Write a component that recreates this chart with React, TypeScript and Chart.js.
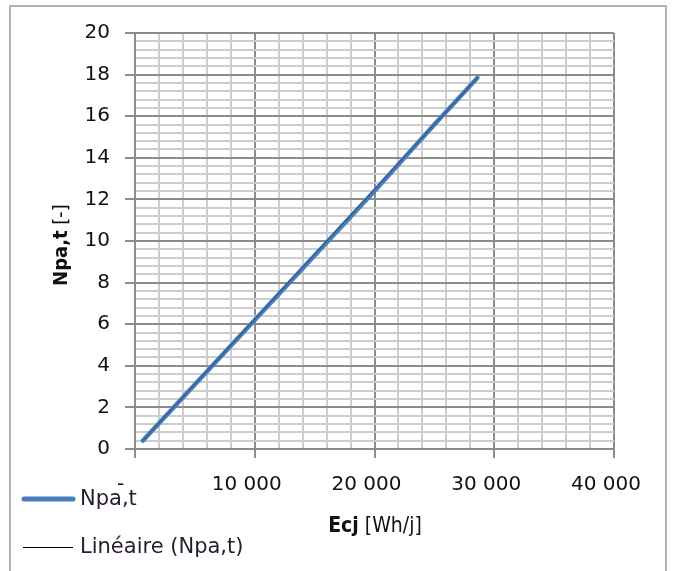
import React, { useEffect, useRef } from "react";
import { Chart, registerables } from "chart.js";

Chart.register(...registerables);

// ---- Data ----
const ecjValues = [650, 5000, 10000, 15000, 20000, 25000, 28600];
const npaValues = [0.4, 3.1, 6.2, 9.3, 12.4, 15.6, 17.85];
const trendX = [650, 28600];
const trendY = [0.4, 17.85];

const seriesLabel = "Npa,t";
const trendLabel = "Linéaire (Npa,t)";
const xTitleBold = "Ecj";
const xTitleRest = " [Wh/j]";
const yTitleBold = "Npa,t";
const yTitleRest = " [-]";

const xMajorLabels: Record<number, string> = {
  0: "-  ",
  10000: "10 000",
  20000: "20 000",
  30000: "30 000",
  40000: "40 000",
};

const TICK_FONT = "'DejaVu Sans', sans-serif";
const TITLE_FONT = "'DejaVu Sans Condensed', 'Liberation Sans Narrow', 'DejaVu Sans', sans-serif";
const BLUE = "#4a7ebb";

function isMultiple(v: number, m: number) {
  const r = v / m;
  return Math.abs(r - Math.round(r)) < 1e-6;
}

const decorPlugin = {
  id: "decor",
  beforeDraw(chart: any) {
    const { ctx } = chart;
    ctx.save();
    ctx.fillStyle = "#ffffff";
    ctx.fillRect(0, 0, chart.width, chart.height);
    ctx.strokeStyle = "#b4b4b4";
    ctx.lineWidth = 2;
    ctx.strokeRect(10, 6, 656, 600);
    ctx.restore();
  },
  afterDraw(chart: any) {
    const { ctx } = chart;
    ctx.save();
    // X title (mixed weight)
    ctx.fillStyle = "#111";
    ctx.textBaseline = "middle";
    ctx.textAlign = "left";
    ctx.font = `bold 21px ${TITLE_FONT}`;
    const wb = ctx.measureText(xTitleBold).width;
    ctx.font = `21px ${TITLE_FONT}`;
    const wr = ctx.measureText(xTitleRest).width;
    const xc = 375;
    const xStart = xc - (wb + wr) / 2;
    ctx.font = `bold 21px ${TITLE_FONT}`;
    ctx.fillText(xTitleBold, xStart, 527);
    ctx.font = `21px ${TITLE_FONT}`;
    ctx.fillText(xTitleRest, xStart + wb, 527);

    // Y title rotated
    ctx.save();
    ctx.translate(62, 245);
    ctx.rotate(-Math.PI / 2);
    ctx.font = `bold 20px ${TITLE_FONT}`;
    const yb = ctx.measureText(yTitleBold).width;
    ctx.font = `20px ${TITLE_FONT}`;
    const yr = ctx.measureText(yTitleRest).width;
    const ys = -(yb + yr) / 2;
    ctx.font = `bold 20px ${TITLE_FONT}`;
    ctx.fillText(yTitleBold, ys, 0);
    ctx.font = `20px ${TITLE_FONT}`;
    ctx.fillText(yTitleRest, ys + yb, 0);
    ctx.restore();

    // Legend
    ctx.lineCap = "round";
    ctx.strokeStyle = BLUE;
    ctx.lineWidth = 5;
    ctx.beginPath();
    ctx.moveTo(24, 499);
    ctx.lineTo(73, 499);
    ctx.stroke();
    ctx.lineCap = "butt";
    ctx.strokeStyle = "#000";
    ctx.lineWidth = 1;
    ctx.beginPath();
    ctx.moveTo(23, 547.5);
    ctx.lineTo(73, 547.5);
    ctx.stroke();
    ctx.fillStyle = "#2a1a30";
    ctx.font = `21px ${TICK_FONT}`;
    ctx.textAlign = "left";
    ctx.fillText(seriesLabel, 80, 500);
    ctx.fillText(trendLabel, 80, 548);
    ctx.restore();
  },
};

export default function App() {
  const ref = useRef<HTMLCanvasElement | null>(null);

  useEffect(() => {
    document.body.style.margin = "0";
    const canvas = ref.current;
    if (!canvas) return;
    const chart = new Chart(canvas, {
      type: "scatter",
      data: {
        datasets: [
          {
            label: seriesLabel,
            data: ecjValues.map((x, i) => ({ x, y: npaValues[i] })),
            showLine: true,
            borderColor: BLUE,
            backgroundColor: BLUE,
            borderWidth: 4.5,
            borderCapStyle: "round",
            borderJoinStyle: "round",
            pointRadius: 0,
            order: 2,
          },
          {
            label: trendLabel,
            data: trendX.map((x, i) => ({ x, y: trendY[i] })),
            showLine: true,
            borderColor: "rgba(20,40,70,0.6)",
            borderWidth: 1,
            pointRadius: 0,
            order: 1,
          },
        ],
      },
      options: {
        responsive: false,
        animation: false,
        devicePixelRatio: 1,
        layout: { padding: { top: 33, right: 59, left: 0, bottom: 0 } },
        plugins: {
          legend: { display: false },
          tooltip: { enabled: false },
        },
        scales: {
          x: {
            type: "linear",
            min: 0,
            max: 40000,
            border: { display: true, color: "#8c8c8c", width: 2 },
            ticks: {
              stepSize: 2000,
              maxTicksLimit: 1000,
              autoSkip: false,
              maxRotation: 0,
              minRotation: 0,
              padding: 15,
              labelOffset: -8,
              color: "#111",
              font: { family: TICK_FONT, size: 20 },
              callback: (v: any) => {
                const n = Number(v);
                return xMajorLabels[n] !== undefined ? xMajorLabels[n] : "";
              },
            },
            grid: {
              drawTicks: true,
              tickLength: 9,
              lineWidth: 2,
              color: (c: any) => (isMultiple(c.tick.value, 10000) ? "#8c8c8c" : "#cdcdcd"),
              tickColor: (c: any) => (isMultiple(c.tick.value, 10000) ? "#8c8c8c" : "rgba(0,0,0,0)"),
            },
            afterFit: (s: any) => {
              s.height = 122;
            },
          },
          y: {
            type: "linear",
            min: 0,
            max: 20,
            border: { display: true, color: "#8c8c8c", width: 2 },
            ticks: {
              stepSize: 0.4,
              maxTicksLimit: 1000,
              autoSkip: false,
              padding: 15,
              color: "#111",
              font: { family: TICK_FONT, size: 20 },
              callback: (v: any) => {
                const n = Number(v);
                return isMultiple(n, 2) ? String(Math.round(n)) : "";
              },
            },
            grid: {
              drawTicks: true,
              tickLength: 10,
              lineWidth: 2,
              color: (c: any) => (isMultiple(c.tick.value, 2) ? "#8c8c8c" : "#cdcdcd"),
              tickColor: (c: any) => (isMultiple(c.tick.value, 2) ? "#8c8c8c" : "rgba(0,0,0,0)"),
            },
            afterFit: (s: any) => {
              s.width = 135;
            },
          },
        },
      },
      plugins: [decorPlugin],
    });
    return () => chart.destroy();
  }, []);

  return (
    <div style={{ position: "absolute", left: 0, top: 0, width: 673, height: 571 }}>
      <canvas ref={ref} width={673} height={571} style={{ display: "block" }} />
    </div>
  );
}
